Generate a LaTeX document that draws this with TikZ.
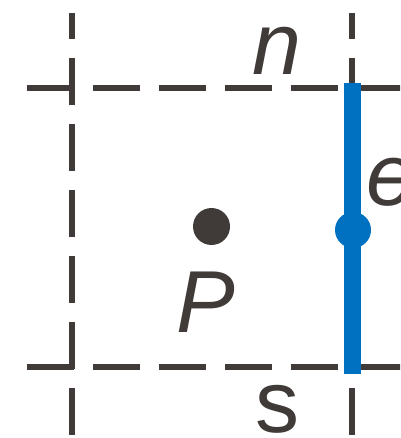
\documentclass[tikz,border=0pt]{standalone}
\usepackage{fontspec}
\setmainfont{Liberation Sans}
\usetikzlibrary{positioning}
\definecolor{ink}{RGB}{64,58,56}
\definecolor{faceblue}{RGB}{0,112,192}
\tikzset{
  gridline/.style={ink, line width=6pt, dash pattern=on 47pt off 19pt},
  dot/.style={circle, inner sep=0pt, draw=none},
  lettr/.style={text=ink, inner sep=0pt, font=\fontsize{88}{88}\selectfont},
}

\begin{document}
\begin{tikzpicture}[x=1pt, y=-1pt]
  \useasboundingbox (0,0) rectangle (400,438);
  \clip (0,0) rectangle (400,438);

  % grid lines of the cell
  \draw[gridline] (27,88) -- (420,88);
  \draw[gridline] (27,367) -- (420,367);
  \draw[gridline, dash phase=21pt] (72,13) -- (72,435);
  \draw[gridline, dash phase=21pt] (352,13) -- (352,435);

  % east face
  \coordinate (eTop) at (352.5,83);
  \coordinate (eBot) at (352.5,374);
  \draw[faceblue, line width=17pt] (eTop) -- (eBot);
  \node[dot, fill=faceblue, minimum size=36pt] (e) at (353,230) {};

  % cell centre
  \node[dot, fill=ink, minimum size=37pt] (P) at (211.5,226.5) {};

  % labels
  \node[lettr, anchor=base] (nLab) at (277,75) {\textit{n}};
  \node[lettr, anchor=base west] (eLab) at (366,205) {\textit{e}};
  \node[lettr, anchor=base west] (PLab) at (176,332) {\textit{P}};
  \node[lettr, anchor=base] (sLab) at (277.5,432) {s};
\end{tikzpicture}
\end{document}
